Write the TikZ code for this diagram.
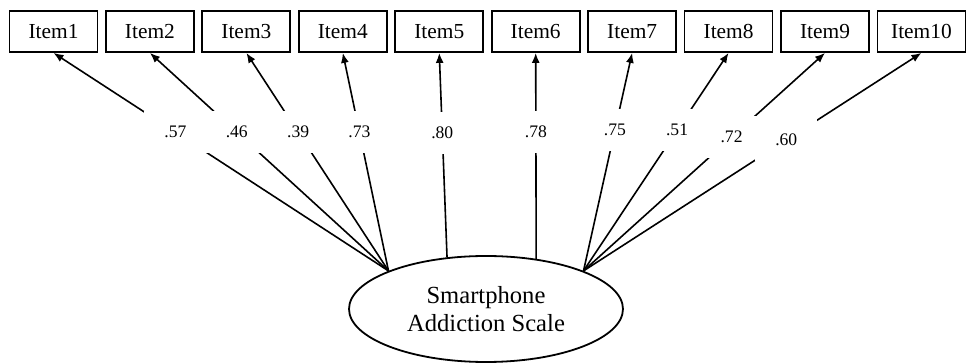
\documentclass[tikz,border=0pt]{standalone}
\usepackage{fontspec}
\setmainfont{Liberation Serif}
\usetikzlibrary{shapes.geometric, arrows.meta, positioning, chains}
\tikzset{
  base/.style={draw, line width=0.9pt, align=center, inner sep=0pt},
  item/.style={base, rectangle, on grid, on chain, minimum width=44pt, minimum height=20.5pt, font={\fontsize{10.7}{12}\selectfont}},
  latent/.style={base, ellipse, minimum width=137pt, minimum height=53pt, font={\fontsize{12.3}{14}\selectfont}},
  % -------------------------------------------------
  % loading labels sit on a white patch that cuts the line
  coef/.style={fill=white, minimum width=31pt, minimum height=21pt, inner sep=0pt, font={\fontsize{8.8}{10}\selectfont}},
  loading/.style={-{Latex[length=5pt, width=4pt]}, line width=0.8pt}
}

\begin{document}
\begin{tikzpicture}[%
    x=0.5pt, y=-0.5pt,          % work in pixels of the original
    start chain=going right,    % items run left to right
    node distance=48.22pt,      % item pitch
    ]
\useasboundingbox (0,0) rectangle (971,363);

% -------------------------------------------------
% Observed items
\node [item] (i1) at (53.5,31.5) {Item1};
\node [item] (i2) {Item2};
\node [item] (i3) {Item3};
\node [item] (i4) {Item4};
\node [item] (i5) {Item5};
\node [item] (i6) {Item6};
\node [item] (i7) {Item7};
\node [item] (i8) {Item8};
\node [item] (i9) {Item9};
\node [item] (i10) {Item10};

% Latent factor
\node [latent] (sas) at (486,309) {Smartphone\\Addiction Scale};

% -------------------------------------------------
% Factor loadings
\draw [loading] (sas.north west) -- node [coef, pos=0.636] {.57} (i1.south);
\draw [loading] (sas.north west) -- node [coef, pos=0.636] {.46} (i2.south);
\draw [loading] (sas.north west) -- node [coef, pos=0.636] {.39} (i3.south);
\draw [loading] (sas.north west) -- node [coef, pos=0.636] {.73} (i4.south);
\draw [loading] (sas.127) -- node [coef, pos=0.61] {.80} (i5.south);
\draw [loading] (sas.45) -- node [coef, pos=0.615] {.78} (i6.south);
\draw [loading] (sas.north east) -- node [coef, pos=0.645] {.75} (i7.south);
\draw [loading] (sas.north east) -- node [coef, pos=0.645] {.51} (i8.south);
\draw [loading] (sas.north east) -- node [coef, pos=0.613] {.72} (i9.south);
\draw [loading] (sas.north east) -- node [coef, pos=0.6] {.60} (i10.south);

\end{tikzpicture}
\end{document}
